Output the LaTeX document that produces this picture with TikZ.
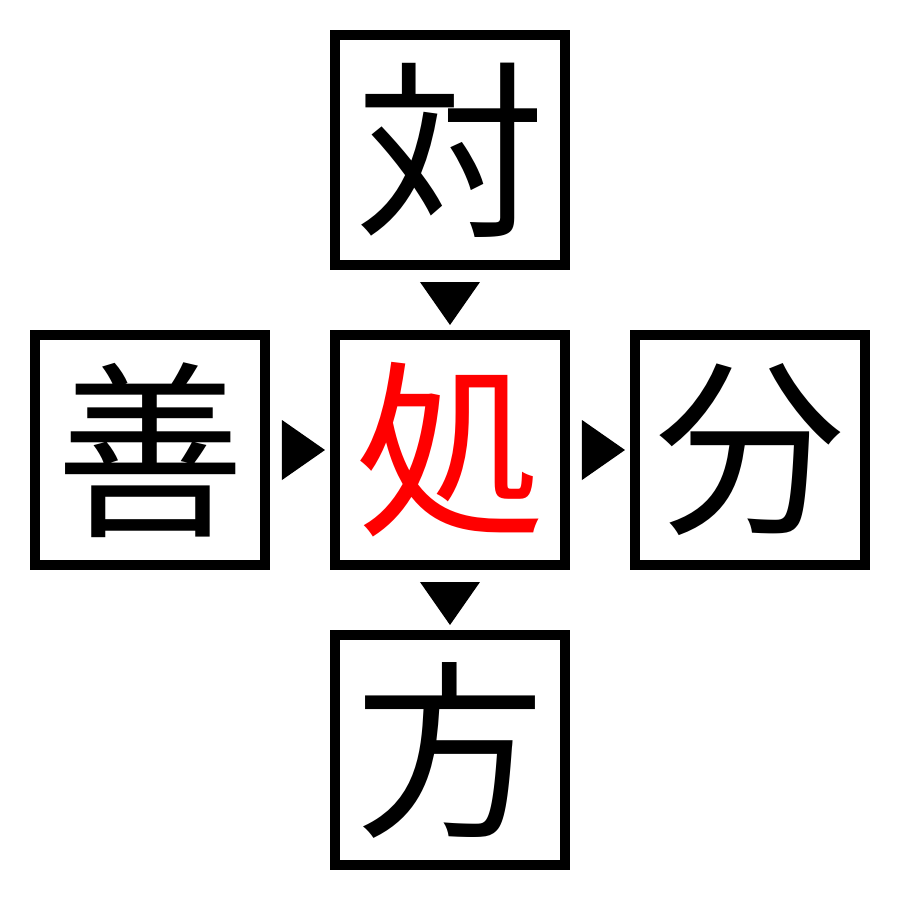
\documentclass[tikz,border=0pt]{standalone}
\usepackage{fontspec}
\newfontfamily\jpfont{Noto Sans CJK JP}
\usetikzlibrary{positioning,calc}
\tikzset{
	kanji/.style={draw, line width=1mm, minimum size=2.3cm, inner sep=0pt, font=\jpfont\fontsize{54}{54}\selectfont},
}
\begin{document}
\begin{tikzpicture}[line join=miter]
		\useasboundingbox (-4.5,-4.5) rectangle (4.5,4.5);
		\node[kanji] (mid) at (0,0) {\textcolor{red}{処}};
		\node[kanji,above=0.6cm of mid] (top) {対};
		\node[kanji,left=0.6cm of mid] (lft) {善};
		\node[kanji,right=0.6cm of mid] (rgt) {分};
		\node[kanji,below=0.6cm of mid] (bot) {方};
		% arrowheads
		\fill ($(top.south)+(-0.3,-0.12)$) -- ($(top.south)+(0.3,-0.12)$) -- ($(top.south)+(0,-0.55)$) -- cycle;
		\fill ($(mid.south)+(-0.3,-0.12)$) -- ($(mid.south)+(0.3,-0.12)$) -- ($(mid.south)+(0,-0.55)$) -- cycle;
		\fill ($(lft.east)+(0.12,0.3)$) -- ($(lft.east)+(0.12,-0.3)$) -- ($(lft.east)+(0.55,0)$) -- cycle;
		\fill ($(mid.east)+(0.12,0.3)$) -- ($(mid.east)+(0.12,-0.3)$) -- ($(mid.east)+(0.55,0)$) -- cycle;
\end{tikzpicture}
\end{document}
